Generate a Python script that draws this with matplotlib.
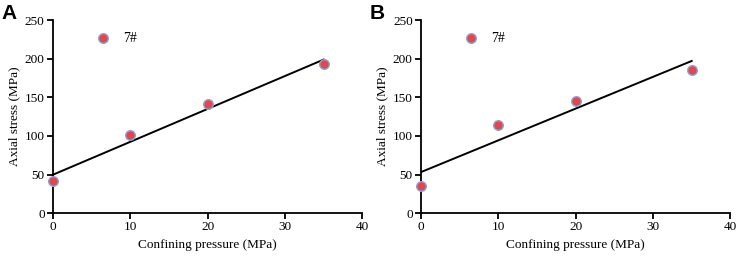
import matplotlib.pyplot as plt
import numpy as np

plt.rcParams['font.family'] = ['Liberation Serif', 'DejaVu Serif']

pressure = [0, 10, 20, 35]
stress_a = [41, 101, 141, 193]
stress_b = [35, 114, 145, 186]
panels = ['A', 'B']
series_label = '7#'

fig = plt.figure(figsize=(7.4, 2.58), dpi=100)
lefts = [0.0716, 0.569]

for left, panel, stress in zip(lefts, panels, [stress_a, stress_b]):
    ax = fig.add_axes([left, 0.174, 0.418, 0.748])
    # linear fit through the points
    k, b = np.polyfit(pressure, stress, 1)
    xs = np.array([0, 35])
    ax.plot(xs, k * xs + b, color='black', lw=1.4, zorder=2)
    ax.scatter(pressure, stress, s=48, color='#e0474f', edgecolors='#8aa6d6',
               linewidths=1.0, zorder=3, label=series_label, clip_on=False)
    ax.set_xlim(0, 40)
    ax.set_ylim(0, 250)
    ax.set_xticks([0, 10, 20, 30, 40])
    ax.set_yticks([0, 50, 100, 150, 200, 250])
    ax.spines['top'].set_visible(False)
    ax.spines['right'].set_visible(False)
    ax.spines['left'].set_linewidth(1.3)
    ax.spines['bottom'].set_linewidth(1.3)
    ax.tick_params(direction='out', length=4, width=1.3, labelsize=9.5, pad=2)
    ax.set_xlabel('Confining pressure (MPa)', fontsize=9.5, labelpad=4)
    ax.set_ylabel('Axial stress (MPa)', fontsize=9.5, labelpad=3)
    ax.legend(loc='upper left', bbox_to_anchor=(0.075, 1.005), frameon=False,
              fontsize=10, handletextpad=0.5, scatterpoints=1)
    fig.text(left - 0.07, 0.985, panel, fontsize=15, fontweight='bold',
             family='Liberation Sans', va='top', ha='left')

plt.savefig('out.png', dpi=100)
